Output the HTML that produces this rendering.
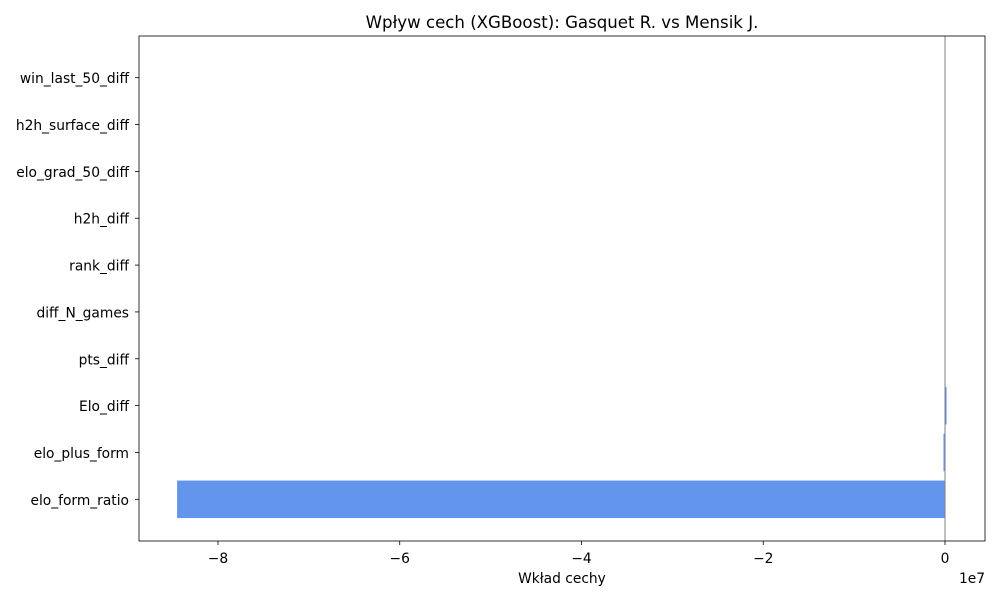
<!DOCTYPE html>
<html><head><meta charset="utf-8"><style>
body{margin:0;background:#fff;}
svg text{font-family:"DejaVu Sans","Liberation Sans",sans-serif;fill:#000;}
</style></head><body>
<svg id="chart" width="1000" height="600" xmlns="http://www.w3.org/2000/svg">
<text x="562" y="28" font-size="16.6" text-anchor="middle">Wpływ cech (XGBoost): Gasquet R. vs Mensik J.</text>
<text x="562" y="583" font-size="13.8" text-anchor="middle">Wkład cechy</text>
<text x="985" y="583" font-size="13.8" text-anchor="end">1e7</text>
</svg>
<script>
const categories=["elo_form_ratio","elo_plus_form","Elo_diff","pts_diff","diff_N_games","rank_diff","h2h_diff","elo_grad_50_diff","h2h_surface_diff","win_last_50_diff"];
const values=[-8.45e7,-0.017e7,0.017e7,0,0,0,0,0,0,0];
const xTicks=[-8,-6,-4,-2,0];
const xTickLabels=["\u22128","\u22126","\u22124","\u22122","0"];
const svg=document.getElementById('chart');
const NS="http://www.w3.org/2000/svg";
const L=139,R=985,T=36,B=541;
const xmin=-8.869e7,xmax=0.44e7,ymin=-0.89,ymax=9.89;
const X=v=>L+(v-xmin)/(xmax-xmin)*(R-L);
const Y=v=>B-(v-ymin)/(ymax-ymin)*(B-T);
function mk(t,a){const e=document.createElementNS(NS,t);for(const k in a)e.setAttribute(k,a[k]);svg.appendChild(e);return e;}
values.forEach((v,i)=>{
 const x0=X(0),x1=X(v);
 const r=mk('rect',{x:Math.min(x0,x1),y:Y(i+0.4),width:Math.max(Math.abs(x1-x0),0),height:Y(i-0.4)-Y(i+0.4),fill:'#6495ed'});
 
 
 mk('line',{x1:L-4,x2:L,y1:Y(i),y2:Y(i),stroke:'#000','stroke-width':0.8});
 const t=mk('text',{x:L-10,y:Y(i)+5.5,'font-size':13.8,'text-anchor':'end'});
 t.textContent=categories[i];
 
 
});
const z=mk('line',{x1:X(0),x2:X(0),y1:T,y2:B,stroke:'#808080','stroke-width':1});


xTicks.forEach((v,i)=>{
 const x=X(v*1e7);
 mk('line',{x1:x,x2:x,y1:B,y2:B+4,stroke:'#000','stroke-width':0.8});
 const t=mk('text',{x:x,y:B+22,'font-size':13.8,'text-anchor':'middle'});
 t.textContent=xTickLabels[i];
 
 
});
const f=mk('rect',{x:L,y:T,width:R-L,height:B-T,fill:'none',stroke:'#000','stroke-width':0.8});


</script>
</body></html>
